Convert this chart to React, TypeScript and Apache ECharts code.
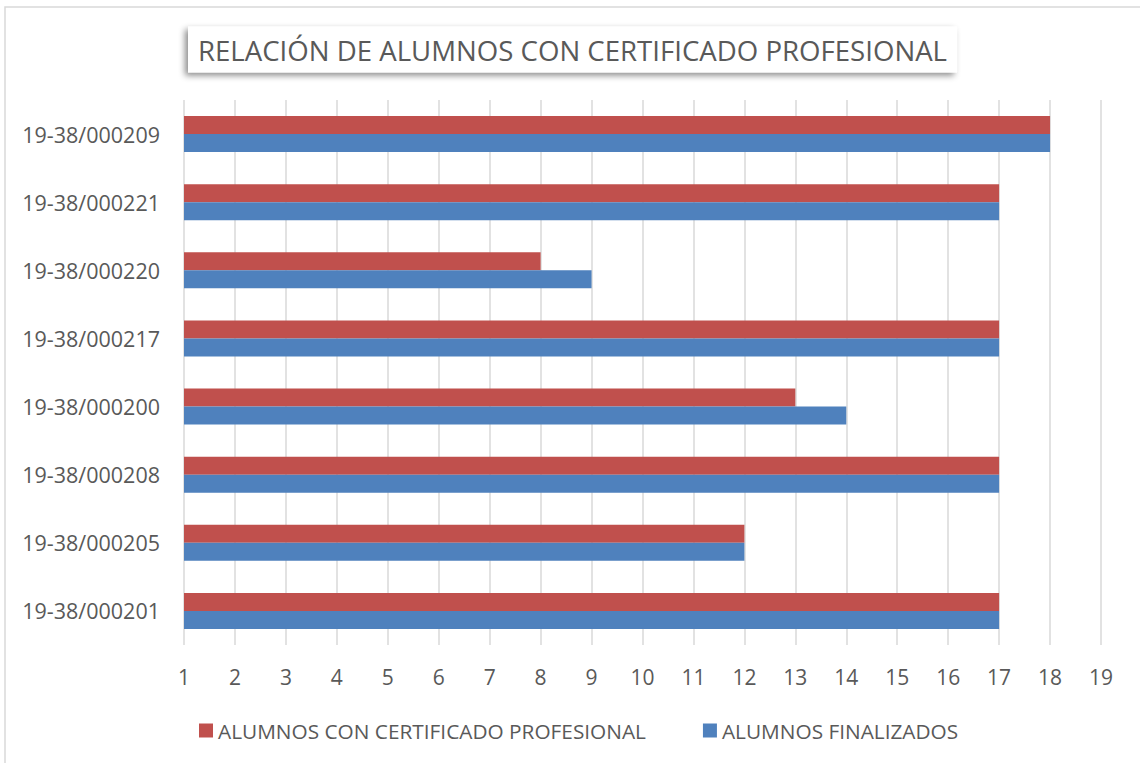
import React, { useEffect, useRef } from "react";
import * as echarts from "echarts";

const categories = [
  "19-38/000201",
  "19-38/000205",
  "19-38/000208",
  "19-38/000200",
  "19-38/000217",
  "19-38/000220",
  "19-38/000221",
  "19-38/000209",
];
const certificado = [17, 12, 17, 13, 17, 8, 17, 18];
const finalizados = [17, 12, 17, 14, 17, 9, 17, 18];
const seriesNames = ["ALUMNOS CON CERTIFICADO PROFESIONAL", "ALUMNOS FINALIZADOS"];
const titleText = "RELACIÓN DE ALUMNOS CON CERTIFICADO PROFESIONAL";

const FONT = "'Open Sans', sans-serif";
const TEXT = "#595959";

export default function App() {
  const ref = useRef<HTMLDivElement>(null);
  useEffect(() => {
    document.body.style.margin = "0";
    const chart = echarts.init(ref.current!, null, { renderer: "svg" });
    chart.setOption({
      animation: false,
      backgroundColor: "#fff",
      textStyle: { fontFamily: FONT },
      title: {
        text: titleText,
        left: 188,
        top: 27,
        padding: [9, 10, 9, 10],
        backgroundColor: "#fff",
        shadowBlur: 6,
        shadowColor: "rgba(0,0,0,0.45)",
        shadowOffsetX: -3,
        shadowOffsetY: 3,
        textStyle: { fontFamily: FONT, fontSize: 27.6, fontWeight: "normal", color: TEXT, lineHeight: 27 },
      },
      graphic: [
        {
          type: "rect",
          shape: { x: 5, y: 7, width: 1200, height: 800 },
          style: { fill: "none", stroke: "#d9d9d9", lineWidth: 1.5 },
          z: -10,
          silent: true,
        },
      ],
      legend: {
        left: 194,
        top: 715,
        itemWidth: 14,
        itemHeight: 14,
        itemGap: 57,
        icon: "rect",
        data: seriesNames,
        textStyle: { fontFamily: FONT, fontSize: 20.8, color: TEXT },
      },
      grid: { left: 184, right: 39, top: 100, bottom: 118, containLabel: false },
      xAxis: {
        type: "value",
        min: 1,
        max: 19,
        interval: 1,
        axisLine: { show: false },
        axisTick: { show: false },
        splitLine: { show: true, lineStyle: { color: "#d9d9d9", width: 1.5 } },
        axisLabel: { fontFamily: FONT, fontSize: 21, color: TEXT, margin: 21 },
      },
      yAxis: {
        type: "category",
        data: categories,
        axisLine: { show: false },
        axisTick: { show: false },
        axisLabel: { fontFamily: FONT, fontSize: 21.5, color: TEXT, margin: 24 },
      },
      series: [
        {
          name: seriesNames[0],
          type: "bar",
          data: certificado,
          barWidth: 18,
          barGap: "0%",
          itemStyle: { color: "#C0504D" },
        },
        {
          name: seriesNames[1],
          type: "bar",
          data: finalizados,
          barWidth: 18,
          barGap: "0%",
          itemStyle: { color: "#4F81BD" },
        },
      ],
    });
    return () => chart.dispose();
  }, []);
  return <div ref={ref} style={{ width: 1140, height: 763 }} />;
}
